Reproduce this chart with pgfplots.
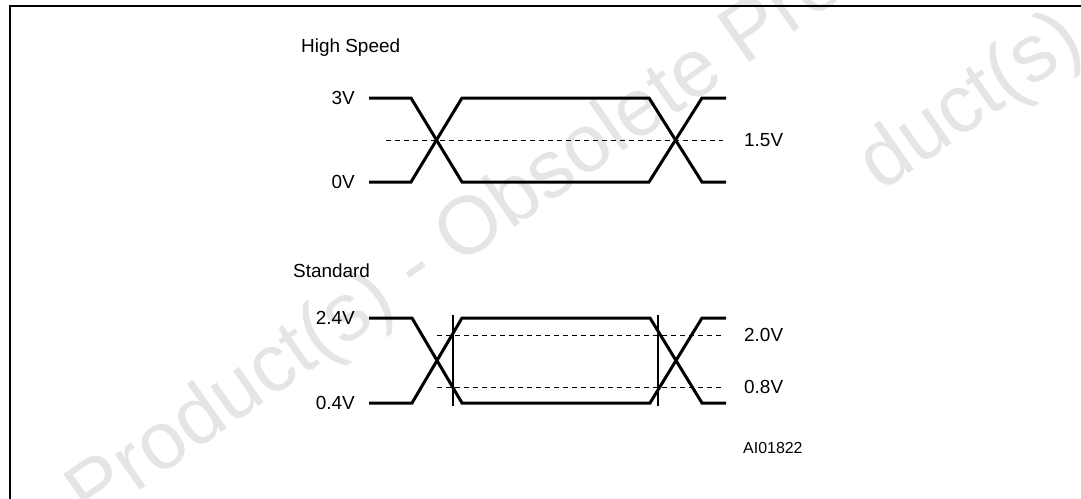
\documentclass[border=0pt]{standalone}
\usepackage{pgfplots}
\pgfplotsset{compat=1.18}
\usepackage{fontspec}
\setmainfont{Liberation Sans}
\begin{document}
\begin{tikzpicture}
\useasboundingbox (0,0) rectangle (1081bp,499bp);
\clip (0,0) rectangle (1081bp,499bp);
\begin{axis}[
  at={(0,0)}, anchor=south west,
  scale only axis, width=1081bp, height=499bp,
  xmin=0, xmax=1081, ymin=0, ymax=499, y dir=reverse,
  hide axis, clip=false,
  every axis plot/.append style={line join=miter},
]
% watermark
\node[rotate=35, text=black!10, font=\fontsize{82}{82}\selectfont] at (axis cs:560,170) {Product(s) - Obsolete Product(s)};
\node[rotate=35, text=black!10, font=\fontsize{82}{82}\selectfont] at (axis cs:972,104) {duct(s)};
% frame
\addplot[black, line width=2.6bp, line join=miter] coordinates {(10,520) (10,6) (1100,6)};
% High speed
\addplot[black, line width=3bp] coordinates {(369,98) (411,98) (462,182) (649,182) (702,98) (726,98)};
\addplot[black, line width=3bp] coordinates {(369,182) (411,182) (462,98) (649,98) (702,182) (726,182)};
\addplot[black, line width=1bp, dash pattern=on 5bp off 4bp] coordinates {(386,140) (723,140)};
% Standard
\addplot[black, line width=3bp] coordinates {(369,318) (412,318) (462,403) (650,403) (702,318) (726,318)};
\addplot[black, line width=3bp] coordinates {(369,403) (412,403) (462,318) (650,318) (702,403) (726,403)};
\addplot[black, line width=1bp, dash pattern=on 5bp off 4bp] coordinates {(437,335) (723,335)};
\addplot[black, line width=1bp, dash pattern=on 5bp off 4bp] coordinates {(437,387) (723,387)};
\addplot[black, line width=1.3bp] coordinates {(453,315) (453,406)};
\addplot[black, line width=1.3bp] coordinates {(658,315) (658,406)};
% labels
\begin{scope}[every node/.style={font=\fontsize{19}{21}\selectfont, inner sep=0pt}]
\node[anchor=west] at (axis cs:301,48) {High Speed};
\node[anchor=west] at (axis cs:293,271) {Standard};
\node[anchor=east] at (axis cs:355,98) {3V};
\node[anchor=east] at (axis cs:355,182) {0V};
\node[anchor=east] at (axis cs:355,318) {2.4V};
\node[anchor=east] at (axis cs:355,403) {0.4V};
\node[anchor=west] at (axis cs:744,140) {1.5V};
\node[anchor=west] at (axis cs:744,335) {2.0V};
\node[anchor=west] at (axis cs:744,387) {0.8V};
\node[anchor=west, font=\fontsize{16}{18}\selectfont] at (axis cs:743,448) {AI01822};
\end{scope}
\end{axis}
\end{tikzpicture}
\end{document}
